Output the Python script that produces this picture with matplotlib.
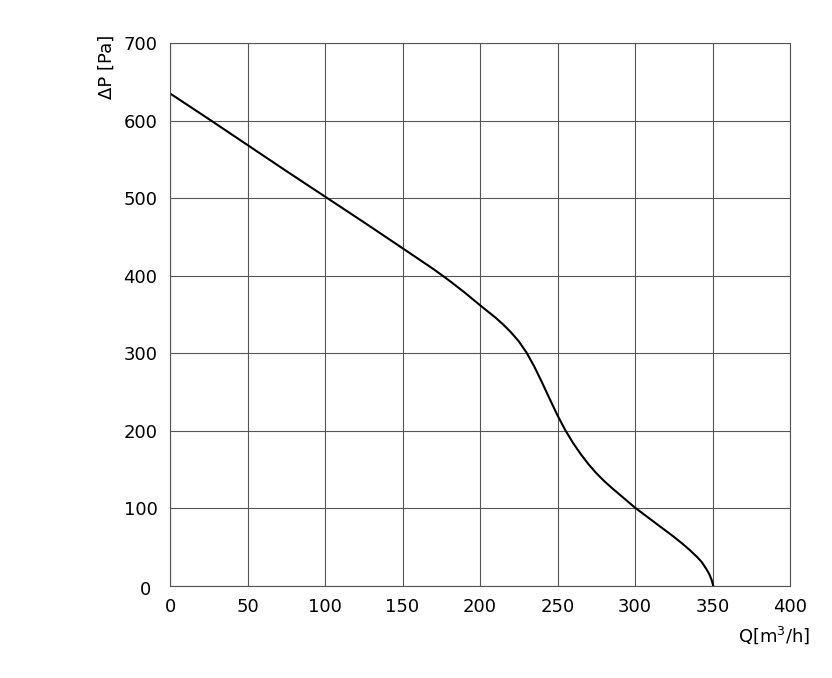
import numpy as np
import matplotlib.pyplot as plt
import matplotlib.transforms as mtransforms

plt.rcParams['font.family'] = ['DejaVu Sans']

# fan curve
flow = [0, 25, 50, 75, 100, 125, 150, 170, 180, 190, 200, 210, 215, 220, 225,
        230, 235, 240, 245, 250, 255, 260, 265, 270, 275, 280, 285, 290, 295,
        300, 305, 310, 315, 320, 325, 330, 335, 340, 343, 346, 348, 349.5, 350.5]
pressure = [635, 602, 568.5, 535, 502, 469, 435.5, 408.5, 394, 378.5, 362, 346,
            337, 327, 315.5, 301, 283, 262.5, 241, 220, 201, 184.5, 170, 157,
            145.5, 135.5, 126.5, 118, 109.5, 101, 93.5, 86, 78.5, 71, 63.5, 55.5,
            47, 37.5, 31, 22, 15, 7.5, 0]

xticks = [0, 50, 100, 150, 200, 250, 300, 350, 400]
yticks = [0, 100, 200, 300, 400, 500, 600, 700]

fig = plt.figure(figsize=(8.32, 6.78), dpi=100)
ax = fig.add_axes([170/832, 1-586/678, 620/832, 543/678])

ax.plot(flow, pressure, color='black', lw=1.5, solid_joinstyle='round')

ax.set_xlim(0, 400)
ax.set_ylim(0, 700)
ax.set_xticks(xticks)
ax.set_yticks(yticks)
ax.grid(True, color='#555555', lw=0.8)
ax.set_axisbelow(True)
for s in ax.spines.values():
    s.set_color('#555555')
    s.set_linewidth(0.8)
ax.tick_params(length=0, labelsize=13, colors='black')
ax.tick_params(axis='y', pad=9)
ax.tick_params(axis='x', pad=9)

# zero on y axis sits a little left of the others
lab0 = ax.get_yticklabels()[0]
lab0.set_transform(lab0.get_transform() +
                   mtransforms.ScaledTranslation(-6/100, -2/100, fig.dpi_scale_trans))

fig.text(107/832, 1-35/678, 'ΔP [Pa]', rotation=90, ha='center', va='top', fontsize=13)
fig.text(810/832, 1-635/678, 'Q[m$\\mathregular{^3}$/h]', ha='right', va='center', fontsize=13)

plt.savefig('out.png', dpi=100)
